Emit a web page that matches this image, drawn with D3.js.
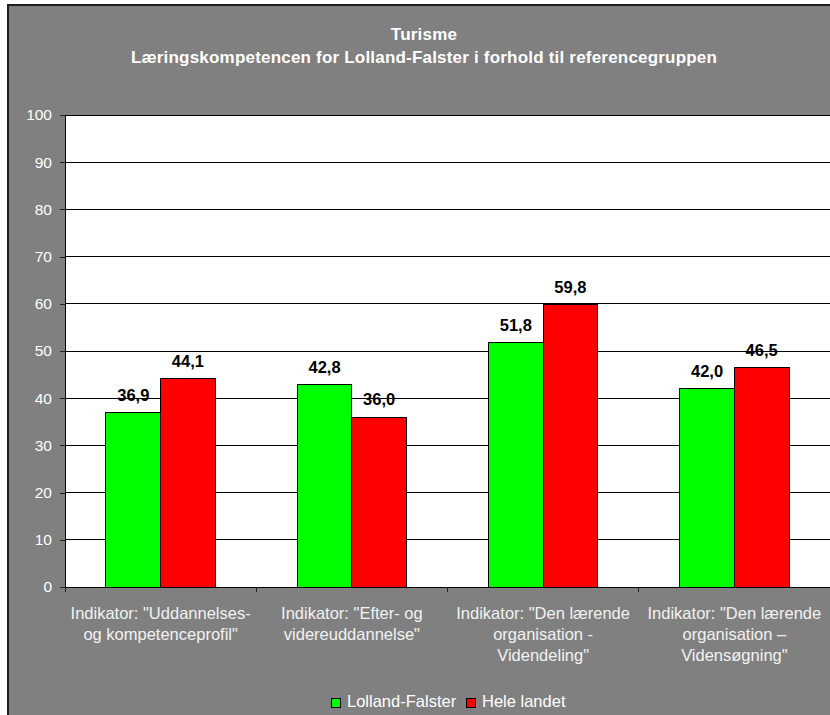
<!DOCTYPE html>
<html>
<head>
<meta charset="utf-8">
<script src="https://cdn.jsdelivr.net/npm/d3@7"></script>
<style>
  html, body { margin: 0; padding: 0; background: #ffffff; }
  svg { display: block; font-family: "Liberation Sans", Arial, sans-serif; }
</style>
</head>
<body>
<svg id="chart" width="830" height="715"></svg>
<script>
// Indicator groups on the x axis, each label split into its printed lines
const categories = ["Uddannelses", "Efter", "Videndeling", "Vidensogning"];
const categoryLines = [
  ["Indikator: \"Uddannelses-", "og kompetenceprofil\""],
  ["Indikator: \"Efter- og", "videreuddannelse\""],
  ["Indikator: \"Den lærende", "organisation -", "Videndeling\""],
  ["Indikator: \"Den lærende", "organisation –", "Vidensøgning\""]
];
const seriesNames = ["Lolland-Falster", "Hele landet"];
const lollandFalster = [36.9, 42.8, 51.8, 42.0];
const heleLandet = [44.1, 36.0, 59.8, 46.5];
const seriesColors = ["#00ff00", "#ff0000"];
const yTicks = [0, 10, 20, 30, 40, 50, 60, 70, 80, 90, 100];
const titleLines = ["Turisme", "Læringskompetencen for Lolland-Falster i forhold til referencegruppen"];

const seriesValues = [lollandFalster, heleLandet];
const fmt = v => d3.format(".1f")(v).replace(".", ",");

const svg = d3.select("#chart");
const plot = { left: 65, right: 830, top: 115, bottom: 587 };

// Chart area background with dark frame
svg.append("rect")
  .attr("x", 8).attr("y", 5)
  .attr("width", 840).attr("height", 730)
  .attr("fill", "#808080")
  .attr("stroke", "#1e1e1e").attr("stroke-width", 2);

// Titles
svg.append("g").selectAll("text")
  .data(titleLines)
  .join("text")
  .attr("x", 424)
  .attr("y", (d, i) => 40 + i * 23)
  .attr("text-anchor", "middle")
  .attr("font-size", "17px")
  .attr("font-weight", "bold")
  .attr("letter-spacing", "0.2px")
  .attr("fill", "#ffffff")
  .text(d => d);

// Scales
const x0 = d3.scaleBand().domain(categories).range([plot.left, plot.right]);
const groupWidth = x0.bandwidth() / 1.75;
const x1 = d3.scaleBand().domain(seriesNames).range([0, groupWidth]);
const y = d3.scaleLinear().domain([0, 100]).range([plot.bottom, plot.top]);

// Plot area
svg.append("rect")
  .attr("x", plot.left).attr("y", plot.top)
  .attr("width", plot.right - plot.left + 5).attr("height", plot.bottom - plot.top)
  .attr("fill", "#ffffff");

// Gridlines
svg.append("g").selectAll("line")
  .data(yTicks.filter(t => t > 0))
  .join("line")
  .attr("x1", plot.left).attr("x2", plot.right + 5)
  .attr("y1", d => y(d)).attr("y2", d => y(d))
  .attr("stroke", "#000000").attr("stroke-width", 1)
  .attr("shape-rendering", "crispEdges");

// Y axis
const yAxis = svg.append("g")
  .attr("transform", `translate(${plot.left},0)`)
  .call(d3.axisLeft(y).tickValues(yTicks).tickSize(5).tickPadding(8).tickFormat(d3.format("d")));
yAxis.select(".domain").attr("stroke", "#000000").attr("shape-rendering", "crispEdges");
yAxis.selectAll(".tick line").attr("stroke", "#222222").attr("shape-rendering", "crispEdges");
yAxis.selectAll(".tick text")
  .attr("fill", "#ffffff")
  .attr("font-size", "15.5px")
  .attr("font-family", "Liberation Sans, Arial, sans-serif");

// X axis line and tick marks at group boundaries
const boundaries = categories.map(c => x0(c)).concat([plot.right]);
svg.append("line")
  .attr("x1", plot.left).attr("x2", plot.right + 5)
  .attr("y1", plot.bottom).attr("y2", plot.bottom)
  .attr("stroke", "#000000").attr("shape-rendering", "crispEdges");
svg.append("g").selectAll("line")
  .data(boundaries)
  .join("line")
  .attr("x1", d => d).attr("x2", d => d)
  .attr("y1", plot.bottom).attr("y2", plot.bottom + 5)
  .attr("stroke", "#222222").attr("shape-rendering", "crispEdges");

// Bars and value labels
const groups = svg.append("g").selectAll("g")
  .data(categories)
  .join("g")
  .attr("transform", c => `translate(${x0(c) + (x0.bandwidth() - groupWidth) / 2},0)`);

groups.selectAll("rect")
  .data((c, i) => seriesNames.map((s, j) => ({ s, j, v: seriesValues[j][i] })))
  .join("rect")
  .attr("x", d => x1(d.s))
  .attr("y", d => y(d.v))
  .attr("width", x1.bandwidth())
  .attr("height", d => y(0) - y(d.v))
  .attr("fill", d => seriesColors[d.j])
  .attr("stroke", "#000000").attr("stroke-width", 1)
  .attr("shape-rendering", "crispEdges");

groups.selectAll("text")
  .data((c, i) => seriesNames.map((s, j) => ({ s, j, v: seriesValues[j][i] })))
  .join("text")
  .attr("x", d => x1(d.s) + x1.bandwidth() / 2)
  .attr("y", d => y(d.v) - 12)
  .attr("text-anchor", "middle")
  .attr("font-size", "16.5px")
  .attr("font-weight", "bold")
  .attr("fill", "#000000")
  .text(d => fmt(d.v));

// Category labels
svg.append("g").selectAll("text")
  .data(categories)
  .join("text")
  .attr("x", c => x0(c) + x0.bandwidth() / 2)
  .attr("y", 619)
  .attr("text-anchor", "middle")
  .attr("font-size", "16.5px")
  .attr("fill", "#f2f2f2")
  .each(function (c, i) {
    d3.select(this).selectAll("tspan")
      .data(categoryLines[i])
      .join("tspan")
      .attr("x", x0(c) + x0.bandwidth() / 2)
      .attr("dy", (d, k) => k === 0 ? 0 : 21)
      .text(d => d);
  });

// Legend
const legendItems = [
  { name: seriesNames[0], color: seriesColors[0], x: 331 },
  { name: seriesNames[1], color: seriesColors[1], x: 466 }
];
const legend = svg.append("g").selectAll("g")
  .data(legendItems)
  .join("g")
  .attr("transform", d => `translate(${d.x},698)`);
legend.append("rect")
  .attr("width", 9).attr("height", 9)
  .attr("fill", d => d.color)
  .attr("stroke", "#000000").attr("stroke-width", 1)
  .attr("shape-rendering", "crispEdges");
legend.append("text")
  .attr("x", 16).attr("y", 9)
  .attr("font-size", "16.5px")
  .attr("fill", "#ffffff")
  .text(d => d.name);
</script>
</body>
</html>
